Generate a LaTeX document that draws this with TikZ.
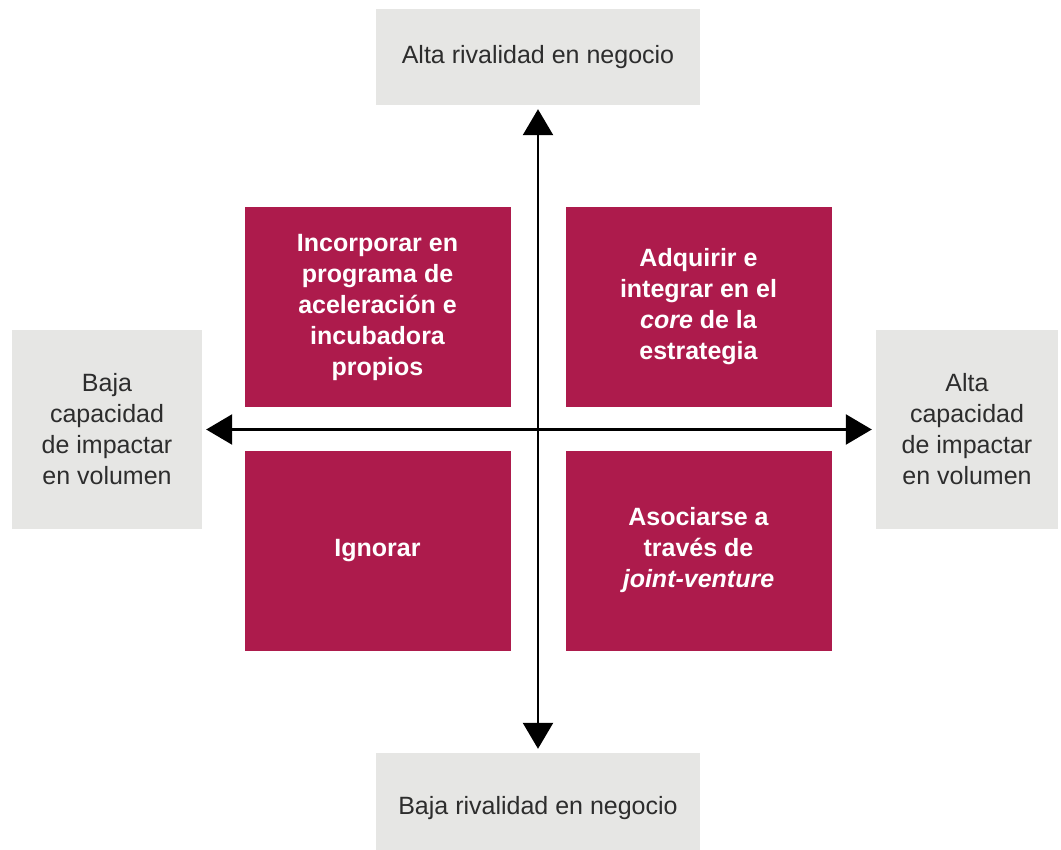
\documentclass[tikz,border=0pt]{standalone}
\usepackage{fontspec}
\setmainfont{Liberation Sans}
\usetikzlibrary{arrows.meta}
\definecolor{quadred}{RGB}{173,27,76}
\definecolor{axisgray}{RGB}{230,230,228}
\definecolor{txtgray}{RGB}{45,45,45}
\tikzset{
  graybox/.style={fill=axisgray, draw=none, align=center, text=txtgray,
    font=\fontsize{25}{31}\selectfont, inner sep=0pt},
  redbox/.style={fill=quadred, draw=none, align=center, text=white,
    font=\fontsize{25}{31}\selectfont\bfseries, inner sep=0pt,
    minimum width=266pt, minimum height=200pt},
  axisarrow/.style={line width=2.5pt, {Triangle[width=30pt,length=26pt]}-{Triangle[width=30pt,length=26pt]}, shorten <=4pt, shorten >=4pt}
}
\begin{document}
\begin{tikzpicture}[x=1pt,y=-1pt]
\useasboundingbox (0,0) rectangle (1061,850);
\begin{scope}
\clip (0,0) rectangle (1061,850);
% axis label boxes
\node[graybox, minimum width=324pt, minimum height=96pt] (top) at (538,57) {Alta rivalidad en negocio};
\node[graybox, minimum width=324pt, minimum height=110pt] (bot) at (538,808) {Baja rivalidad en negocio};
\node[graybox, minimum width=190pt, minimum height=199pt] (left) at (107,429.5) {Baja\\capacidad\\de impactar\\en volumen};
\node[graybox, minimum width=182pt, minimum height=199pt] (right) at (967,429.5) {Alta\\capacidad\\de impactar\\en volumen};
\end{scope}
% quadrants
\node[redbox] (tl) at (377.5,307) {Incorporar en\\programa de\\aceleración e\\incubadora\\propios};
\node[redbox] (tr) at (698.5,307) {Adquirir e\\integrar en el\\\textit{core} de la\\estrategia};
\node[redbox] (bl) at (377.5,550.5) {Ignorar};
\node[redbox] (br) at (698.5,550.5) {Asociarse a\\través de\\\textit{joint-venture}};
% axes
\draw[axisarrow] (bot.north) -- (top.south);
\draw[axisarrow] (left.east) -- (right.west);
\end{tikzpicture}
\end{document}
